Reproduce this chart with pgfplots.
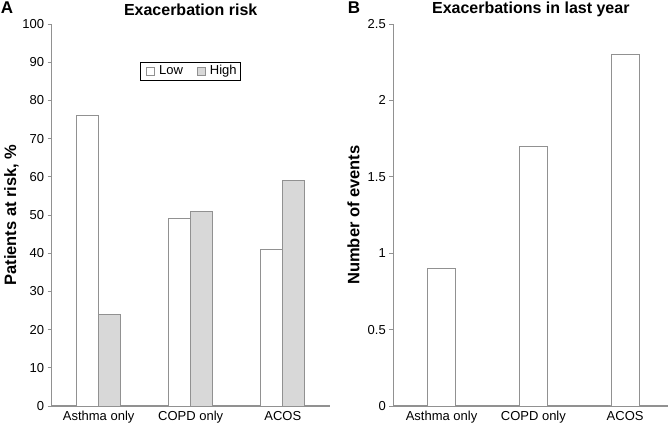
\documentclass[border=0pt]{standalone}
\usepackage{pgfplots}
\pgfplotsset{compat=1.18}
\usepackage{fontspec}
\setmainfont{Liberation Sans}

\definecolor{axgray}{RGB}{145,145,145}
\definecolor{barfill}{RGB}{216,216,216}

\pgfplotsset{
  panel/.style={
    scale only axis,
    height=382pt,
    ymin=0,
    axis x line*=bottom, axis y line*=left,
    axis line style={axgray, line width=1.1pt},
    xtick=data,
    xticklabels={Asthma only, COPD only, ACOS},
    major x tick style={draw=none},
    y tick style={axgray, line width=0.8pt},
    tick align=outside, major tick length=4pt,
    ticklabel style={font=\fontsize{13}{15}\selectfont},
    xticklabel style={yshift=2pt},
    /pgf/number format/assume math mode=true,
    every axis y label/.style={at={(axis description cs:-0.145,0.5)}, rotate=90, anchor=center,
      font=\bfseries\fontsize{16.5}{18}\selectfont},
    every axis title/.style={at={(axis description cs:0.5,1.037)}, anchor=center,
      font=\bfseries\fontsize{16}{18}\selectfont},
    clip=false,
  },
}

\begin{document}
\begin{tikzpicture}
\useasboundingbox (0,0) rectangle (669pt,423pt);

% panel A
\begin{axis}[panel,
    at={(51.7pt,17pt)}, anchor=south west,
    width=278pt,
    xmin=-0.51, xmax=2.51,
    ymax=100, ytick={0,10,...,100},
    ybar=0pt, bar width=22pt,
    title={Exacerbation risk},
    ylabel={Patients at risk, \%},
    legend columns=2,
    legend style={at={(axis description cs:0.499,0.877)}, anchor=center,
      draw=black, line width=0.7pt, font=\fontsize{13}{15}\selectfont,
      inner sep=1.5pt,
      /tikz/every even column/.append style={column sep=8pt}},
    legend image code/.code={
      \path[draw=none, fill=none] (-4pt,0pt) -- (11pt,0pt);
      \draw[#1, line width=0.6pt] (0pt,-4pt) rectangle (8pt,4pt);},
  ]
  \addplot[draw=axgray, fill=white, line width=0.8pt] coordinates {(0,76) (1,49) (2,41)};
  \addplot[draw=axgray, fill=barfill, line width=0.8pt] coordinates {(0,24) (1,51) (2,59)};
  \legend{Low, High}
  \node[font=\bfseries\fontsize{17}{19}\selectfont] at (axis description cs:-0.161,1.042) {A};
\end{axis}

% panel B
\begin{axis}[panel,
    at={(393.3pt,17pt)}, anchor=south west,
    width=275pt,
    xmin=-0.526, xmax=2.47,
    ymax=2.5, ytick={0,0.5,1,1.5,2,2.5},
    yticklabels={0,0.5,1,1.5,2,2.5},
    ybar, bar width=28.5pt,
    title={Exacerbations in last year},
    ylabel={Number of events},
  ]
  \addplot[draw=axgray, fill=white, line width=0.8pt, bar shift=0pt] coordinates {(0,0.9) (1,1.7) (2,2.3)};
  \node[font=\bfseries\fontsize{17}{19}\selectfont] at (axis description cs:-0.143,1.042) {B};
\end{axis}
\end{tikzpicture}
\end{document}
